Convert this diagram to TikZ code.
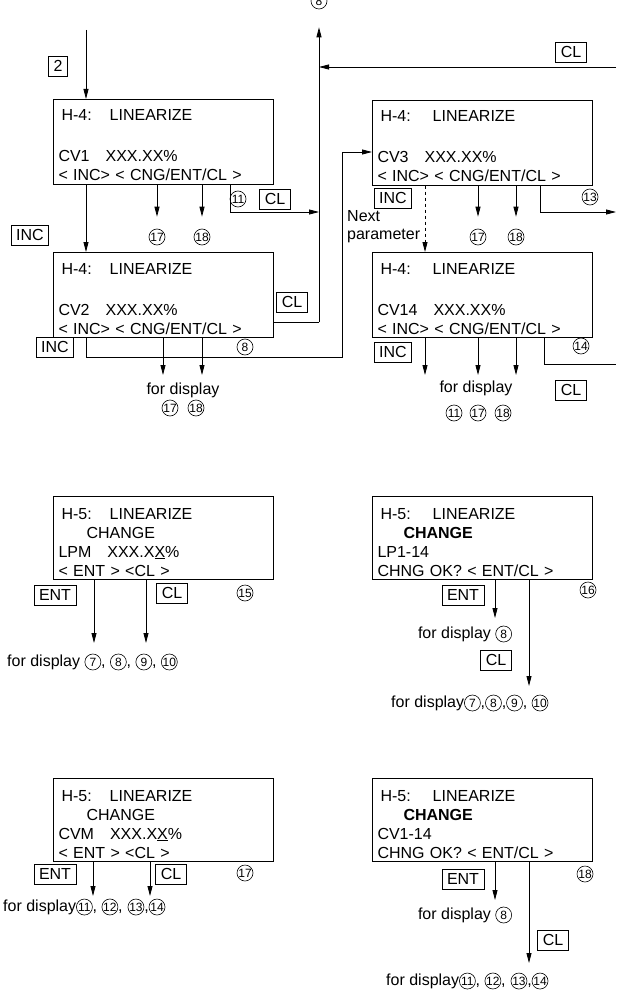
\documentclass[tikz,border=0pt]{standalone}
\usepackage{fontspec}
\setmainfont{Liberation Sans}
\usetikzlibrary{arrows.meta,positioning,calc}

% circled number inside a line of text
\newcommand{\cnum}[1]{\tikz[baseline=(cn.base)]\node[circle,draw,line width=0.6pt,inner sep=0pt,minimum size=16pt,font=\fontsize{12}{12}\selectfont] (cn) {#1};}
% first-line struts for the screens
\newcommand{\hfour}{\rule{0pt}{18.5pt}}
\newcommand{\hfive}{\rule{0pt}{19.5pt}}

\begin{document}
\begin{tikzpicture}[
  x=1pt, y=-1pt,
  lcd/.style={draw, line width=1pt, anchor=north west, minimum width=220pt, minimum height=81pt, text width=210pt, align=left, inner xsep=5pt, inner ysep=3pt, font=\fontsize{16}{19}\selectfont},
  key/.style={draw, line width=0.8pt, inner xsep=5pt, inner ysep=1pt, minimum height=20pt, font=\fontsize{16}{16}\selectfont},
  cnode/.style={circle, draw, line width=0.6pt, inner sep=0pt, minimum size=16pt, font=\fontsize{12}{12}\selectfont},
  txt/.style={inner sep=0pt, font=\fontsize{16}{18}\selectfont},
  flow/.style={-{Triangle[length=10pt,width=5pt]}, line width=0.8pt},
  link/.style={line width=0.8pt}
]
\useasboundingbox (0,0) rectangle (616,995);

% ---- H-4 screens
\node[lcd] (cv1) at (53,99) {\hfour\hspace*{3pt}H-4:\hspace{18pt}LINEARIZE\\ \mbox{}\\[3pt] CV1\hspace{16pt}XXX.XX\%\\ < INC> < CNG/ENT/CL >};
\node[lcd] (cv2) at (53,252) {\hfour\hspace*{3pt}H-4:\hspace{18pt}LINEARIZE\\ \mbox{}\\[3pt] CV2\hspace{16pt}XXX.XX\%\\ < INC> < CNG/ENT/CL >};
\node[lcd] (cv3) at (372,100) {\hfour\hspace*{3pt}H-4:\hspace{22pt}LINEARIZE\\ \mbox{}\\[3pt] CV3\hspace{16pt}XXX.XX\%\\ < INC> < CNG/ENT/CL >};
\node[lcd] (cv14) at (372,252) {\hfour\hspace*{3pt}H-4:\hspace{22pt}LINEARIZE\\ \mbox{}\\[3pt] CV14\hspace{16pt}XXX.XX\%\\ < INC> < CNG/ENT/CL >};

% ---- H-5 screens
\node[lcd] (lpm) at (53,496) {\hfive\hspace*{3pt}H-5:\hspace{18pt}LINEARIZE\\ \hspace*{28pt}CHANGE\\ LPM\hspace{16pt}XXX.X\underline{X}\%\\ < ENT > <CL >};
\node[lcd] (lpall) at (372,496) {\hfive\hspace*{3pt}H-5:\hspace{22pt}LINEARIZE\\ \hspace*{26pt}\textbf{CHANGE}\\ LP1-14\\ CHNG OK? < ENT/CL >};
\node[lcd] (cvm) at (53,778) {\hfive\hspace*{3pt}H-5:\hspace{18pt}LINEARIZE\\ \hspace*{28pt}CHANGE\\ CVM\hspace{16pt}XXX.X\underline{X}\%\\ < ENT > <CL >};
\node[lcd] (cvall) at (372,778) {\hfive\hspace*{3pt}H-5:\hspace{22pt}LINEARIZE\\ \hspace*{26pt}\textbf{CHANGE}\\ CV1-14\\ CHNG OK? < ENT/CL >};

% ---- keys and labels, upper part
\node[key] (k2) at (58,66) {2};
\node[key] (kinc1) at (30,235) {INC};
\node[cnode] (c11a) at (238,199) {11};
\node[key] (kcl1) at (275,199) {CL};
\node[cnode] (c17a) at (157,237) {17};
\node[cnode] (c18a) at (202,237) {18};
\node[key] (kcl2) at (292,302) {CL};
\node[key] (kinc2) at (55,347) {INC};
\node[cnode] (c8a) at (245,347) {8};
\node[txt] (disp2) at (183,390) {for display};
\node[cnode] (c17b) at (170,408) {17};
\node[cnode] (c18b) at (196,408) {18};
\node[cnode] (c8top) at (319,1) {8};
\node[key] (kcltop) at (571,52) {CL};

\node[key] (kinc3) at (393,198) {INC};
\node[txt, align=left, anchor=west] (nextp) at (347,227) {Next\\parameter};
\node[cnode] (c17c) at (478,237) {17};
\node[cnode] (c18c) at (516,237) {18};
\node[cnode] (c13) at (590,197) {13};
\node[key] (kinc4) at (393,352) {INC};
\node[cnode] (c14) at (581,346) {14};
\node[key] (kcl4) at (571,390) {CL};
\node[txt] (disp4) at (476,388) {for display};
\node[cnode] (c11d) at (454,413) {11};
\node[cnode] (c17d) at (478,413) {17};
\node[cnode] (c18d) at (503,413) {18};

% ---- keys and labels, lower part
\node[key] (kent5) at (55,595) {ENT};
\node[key] (kcl5) at (172,593) {CL};
\node[cnode] (c15) at (245,593) {15};
\node[txt, anchor=west] (disp5) at (7,662) {for display \cnum{7}, \cnum{8}, \cnum{9}, \cnum{10}};

\node[key] (kent6) at (463,595) {ENT};
\node[cnode] (c16) at (588,590) {16};
\node[txt] (disp6a) at (465,634) {for display \cnum{8}};
\node[key] (kcl6) at (496,660) {CL};
\node[txt, anchor=west] (disp6b) at (391,703) {for display\cnum{7},\cnum{8},\cnum{9}, \cnum{10}};

\node[key] (kent7) at (55,874) {ENT};
\node[key] (kcl7) at (171,874) {CL};
\node[cnode] (c17m) at (245,873) {17};
\node[txt, anchor=west] (disp7) at (3,907) {for display\cnum{11}, \cnum{12},\hspace{5pt}\cnum{13},\cnum{14}};

\node[key] (kent8) at (463,879) {ENT};
\node[cnode] (c18m) at (585,874) {18};
\node[txt] (disp8a) at (465,915) {for display \cnum{8}};
\node[key] (kcl8) at (553,940) {CL};
\node[txt, anchor=west] (disp8b) at (386,981) {for display\cnum{11}, \cnum{12},\hspace{5pt}\cnum{13},\cnum{14}};

% ---- junction and tip coordinates
\coordinate (entry) at (86,30);
\coordinate (busbot) at (319,322);
\coordinate (busmid) at (319,212);
\coordinate (busin) at (319,67);
\coordinate (clin) at (616,67);
\coordinate (jog) at (342,357);
\coordinate (cv3in) at (372,152);
\coordinate (out13) at (616,212);
\coordinate (out14) at (616,364);
\coordinate (t17b) at (163,375);
\coordinate (t18b) at (202,375);
\coordinate (t11d) at (425,375);
\coordinate (t17d) at (478,375);
\coordinate (t18d) at (516,375);
\coordinate (t7a) at (94,643);
\coordinate (t9a) at (146,643);
\coordinate (t8b) at (495,618);
\coordinate (t7b) at (529,686);
\coordinate (t11a) at (93,896);
\coordinate (t13a) at (150,896);
\coordinate (t8c) at (495,900);
\coordinate (t11b) at (529,963);

% ---- connectors, upper part
\draw[flow] (entry) -- (entry |- cv1.north);
\draw[flow] ($(cv1.south west)+(33,0)$) -- ($(cv2.north west)+(33,0)$);
\draw[flow] (cv1.south -| c17a) -- ([yshift=12pt]c17a.north);
\draw[flow] (cv1.south -| c18a) -- ([yshift=12pt]c18a.north);
\draw[flow] ($(cv1.south west)+(177,0)$) |- (busmid);
\draw[flow] (busbot) -- ([yshift=-18pt]c8top.south);
\draw[link] (busbot) -- (busbot -| cv2.east);
\draw[flow] (clin) -- (busin);
\draw[flow] ($(cv2.south west)+(33,0)$) |- (jog) |- (cv3in);
\draw[flow] (cv2.south -| t17b) -- (t17b);
\draw[flow] (cv2.south -| t18b) -- (t18b);

\draw[flow, dashed] ($(cv3.south west)+(53,0)$) -- ($(cv14.north west)+(53,0)$);
\draw[flow] (cv3.south -| c17c) -- ([yshift=12pt]c17c.north);
\draw[flow] (cv3.south -| c18c) -- ([yshift=12pt]c18c.north);
\draw[flow] ($(cv3.south west)+(168,0)$) |- (out13);
\draw[flow] (cv14.south -| t11d) -- (t11d);
\draw[flow] (cv14.south -| t17d) -- (t17d);
\draw[flow] (cv14.south -| t18d) -- (t18d);
\draw[link] ($(cv14.south west)+(172,0)$) |- (out14);

% ---- connectors, lower part
\draw[flow] (lpm.south -| t7a) -- (t7a);
\draw[flow] (lpm.south -| t9a) -- (t9a);
\draw[flow] (lpall.south -| t8b) -- (t8b);
\draw[flow] (lpall.south -| t7b) -- (t7b);
\draw[flow] (cvm.south -| t11a) -- (t11a);
\draw[flow] (cvm.south -| t13a) -- (t13a);
\draw[flow] (cvall.south -| t8c) -- (t8c);
\draw[flow] (cvall.south -| t11b) -- (t11b);
\end{tikzpicture}
\end{document}
